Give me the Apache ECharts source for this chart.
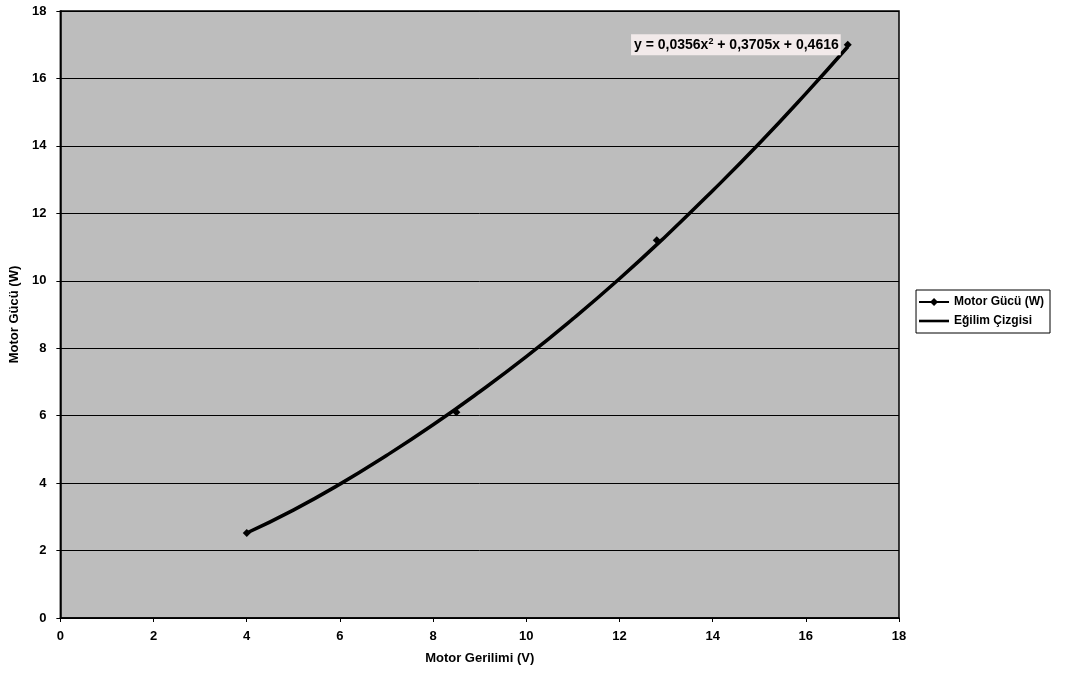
<!DOCTYPE html>
<html>
<head>
<meta charset="utf-8">
<script src="https://cdn.jsdelivr.net/npm/echarts@6/dist/echarts.min.js"></script>
<style>
  html, body { margin: 0; padding: 0; background: #fff; }
  #chart { width: 1069px; height: 676px; }
</style>
</head>
<body>
<div id="chart"></div>
<script>
// measured points
const voltage = [4.0, 8.5, 12.8, 16.9];
const power = [2.52, 6.1, 11.2, 17.0];

// trend line
const trendX = [4, 5, 6, 7, 8, 9, 10, 11, 12, 13, 14, 15, 16, 16.9];
const trendY = [2.52, 3.2, 3.97, 4.82, 5.73, 6.71, 7.75, 8.87, 10.06, 11.33, 12.67, 14.07, 15.55, 16.94];

const equationText = 'y = 0,0356x{sup|2} + 0,3705x + 0,4616';
const axisTicks = [0, 18, 2];

const chartDom = document.getElementById('chart');
const myChart = echarts.init(chartDom);

const labelFont = {
  fontFamily: 'Liberation Sans, Arial, sans-serif',
  fontWeight: 'bold',
  fontSize: 13,
  color: '#000'
};

const option = {
  animation: false,
  backgroundColor: '#fff',
  grid: {
    left: 58,
    top: 11,
    right: 170,
    bottom: 58,
    show: true,
    backgroundColor: '#bdbdbd',
    borderColor: '#000',
    borderWidth: 1.5
  },
  legend: {
    right: 19,
    top: 290,
    orient: 'vertical',
    backgroundColor: '#fff',
    borderColor: '#000',
    borderWidth: 1,
    borderRadius: 0,
    padding: [6, 6, 6, 3],
    itemGap: 7,
    itemWidth: 30,
    itemHeight: 8,
    textStyle: Object.assign({}, labelFont, {fontSize: 12}),
    data: [
      {name: 'Motor Gücü (W)', icon: 'path://M0,3.6 L12,3.6 L15,0.5 L18,3.6 L30,3.6 L30,5.4 L18,5.4 L15,8.5 L12,5.4 L0,5.4 Z'},
      {name: 'Eğilim Çizgisi', icon: 'path://M0,3.2 L30,3.2 L30,5.8 L0,5.8 Z'}
    ]
  },
  xAxis: {
    type: 'value',
    min: axisTicks[0],
    max: axisTicks[1],
    interval: axisTicks[2],
    name: 'Motor Gerilimi (V)',
    nameLocation: 'middle',
    nameGap: 34,
    nameTextStyle: labelFont,
    axisLine: {show: true, lineStyle: {color: '#000', width: 1.5}},
    axisTick: {show: true, length: 4, lineStyle: {color: '#000'}},
    axisLabel: Object.assign({margin: 12}, labelFont),
    splitLine: {show: false}
  },
  yAxis: {
    type: 'value',
    min: axisTicks[0],
    max: axisTicks[1],
    interval: axisTicks[2],
    name: 'Motor Gücü (W)',
    nameLocation: 'middle',
    nameGap: 38,
    nameRotate: 90,
    nameTextStyle: labelFont,
    axisLine: {show: true, lineStyle: {color: '#000', width: 1.5}},
    axisTick: {show: true, length: 4, lineStyle: {color: '#000'}},
    axisLabel: Object.assign({margin: 14}, labelFont),
    splitLine: {show: true, lineStyle: {color: '#000', width: 1}}
  },
  series: [
    {
      name: 'Eğilim Çizgisi',
      type: 'line',
      smooth: true,
      data: trendX.map((v, i) => [v, trendY[i]]),
      symbol: 'none',
      lineStyle: {color: '#000', width: 3.5},
      itemStyle: {color: '#000'},
      z: 2
    },
    {
      name: 'Motor Gücü (W)',
      type: 'line',
      data: voltage.map((v, i) => {
        const p = {value: [v, power[i]]};
        if (i === voltage.length - 1) {
          p.label = {
            show: true,
            position: 'left',
            distance: 3,
            formatter: equationText,
            backgroundColor: '#f2eaea',
            padding: [3, 2, 2, 3],
            fontFamily: 'Liberation Sans, Arial, sans-serif',
            fontWeight: 'bold',
            fontSize: 14,
            color: '#000',
            rich: {
              sup: {
                fontFamily: 'Liberation Sans, Arial, sans-serif',
                fontWeight: 'bold',
                fontSize: 9,
                verticalAlign: 'top',
                padding: [0, 0, 7, 0],
                color: '#000'
              }
            }
          };
        }
        return p;
      }),
      symbol: 'diamond',
      symbolSize: 8,
      itemStyle: {color: '#000'},
      lineStyle: {color: '#000', width: 0},
      z: 3
    }
  ]
};

myChart.setOption(option);
</script>
</body>
</html>
